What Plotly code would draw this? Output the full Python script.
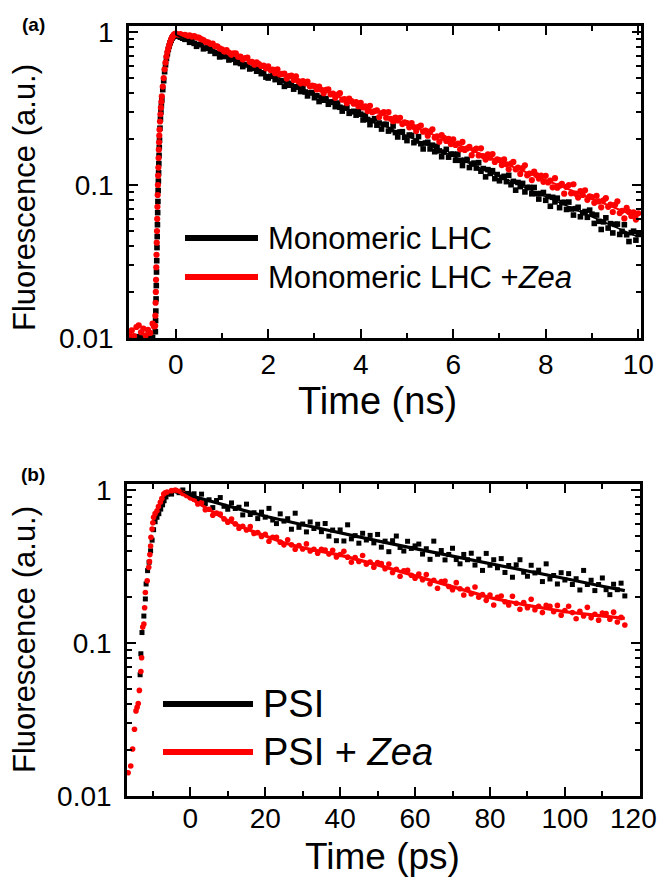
import plotly.graph_objects as go

# ---------------- Panel (a): Monomeric LHC, time in ns ----------------
TOP_BLACK_RISE_T = [-1.0, -0.9, -0.8, -0.7, -0.6, -0.5, -0.44, -0.435, -0.43, -0.425, -0.42, -0.415,
                    -0.41, -0.405, -0.40, -0.395, -0.39, -0.385, -0.38, -0.375, -0.37, -0.365, -0.36,
                    -0.355, -0.35, -0.34, -0.33, -0.32, -0.31, -0.30, -0.28, -0.26, -0.24, -0.22,
                    -0.20, -0.18, -0.16, -0.14, -0.12, -0.10, -0.08, -0.06, -0.04, -0.02]
TOP_BLACK_RISE_V = [0.0101, 0.0099, 0.0102, 0.0100, 0.0103, 0.0101, 0.011, 0.013, 0.015, 0.018, 0.022,
                    0.027, 0.032, 0.039, 0.046, 0.055, 0.066, 0.078, 0.092, 0.106, 0.12, 0.138, 0.156,
                    0.176, 0.196, 0.235, 0.27, 0.30, 0.33, 0.36, 0.42, 0.48, 0.55, 0.61, 0.67, 0.72,
                    0.77, 0.81, 0.85, 0.88, 0.91, 0.93, 0.94, 0.95]
TOP_RED_RISE_T = [-1.0, -0.95, -0.9, -0.85, -0.8, -0.75, -0.7, -0.65, -0.6, -0.55, -0.5, -0.47,
                  -0.445, -0.44, -0.435, -0.43, -0.425, -0.42, -0.415, -0.41, -0.405, -0.40, -0.395,
                  -0.39, -0.385, -0.38, -0.375, -0.37, -0.365, -0.36, -0.355, -0.35, -0.34, -0.33,
                  -0.32, -0.31, -0.30, -0.28, -0.26, -0.24, -0.22, -0.20, -0.18, -0.16, -0.14,
                  -0.12, -0.10, -0.08, -0.06, -0.04, -0.02]
TOP_RED_RISE_V = [0.0105, 0.0112, 0.0103, 0.0118, 0.0121, 0.0109, 0.0115, 0.0104, 0.0113, 0.0108,
                  0.0124, 0.0119, 0.012, 0.014, 0.017, 0.020, 0.024, 0.029, 0.035, 0.042, 0.050,
                  0.060, 0.072, 0.086, 0.100, 0.115, 0.13, 0.15, 0.17, 0.19, 0.21, 0.23, 0.26, 0.29,
                  0.32, 0.35, 0.38, 0.44, 0.50, 0.57, 0.63, 0.69, 0.74, 0.78, 0.82, 0.86, 0.89,
                  0.92, 0.94, 0.96, 0.97]

# decay samples every 0.05 ns from 0 to 10 ns
TOP_DECAY_START_NS = 0.0
TOP_DECAY_STEP_NS = 0.05
TOP_BLACK_DECAY_V = [
    .95, .94, .925, .91, .895,
    .900, .856, .885, .842, .806, .829, .827, .776, .786, .785, .751, .777, .724, .733, .687,
    .717, .691, .699, .656, .670, .664, .631, .653, .622, .594, .611, .611, .573, .580, .579, .554, .573, .534, .541, .507,
    .500, .513, .516, .488, .515, .469, .481, .441, .470, .449, .461, .423, .438, .437, .408, .432, .405, .382, .400, .402,
    .372, .383, .351, .374, .358, .367, .337, .349, .347, .325, .343, .322, .304, .318, .320, .294, .301, .303, .286, .302,
    .290, .266, .285, .268, .248, .263, .271, .246, .254, .232, .249, .249, .225, .230, .243, .220, .206, .222, .223, .205,
    .195, .212, .211, .189, .194, .207, .186, .172, .188, .190, .172, .182, .165, .179, .167, .153, .164, .171, .152, .159,
    .159, .145, .159, .145, .134, .145, .147, .130, .137, .139, .129, .140, .123, .128, .113, .126, .119, .124, .110, .117,
    .1065, .1121, .1139, .1052, .1157, .1004, .1056, .0925, .1039, .0976, .1024, .0901, .0963, .0964, .0876, .0964, .0878, .0809, .0879, .0893,
    .0794, .0841, .0726, .0831, .0775, .0820, .0711, .0768, .0770, .0692, .0773, .0697, .0636, .0700, .0715, .0620, .0658, .0671, .0615, .0685,
    .0644, .0561, .0636, .0579, .0512, .0574, .0610, .0523, .0559, .0486, .0553, .0555, .0475, .0498, .0550, .0473, .0427, .0488, .0499, .0436, .0475]
TOP_RED_DECAY_V = [
    .975, .962, .968, .951, .958, .944, .950, .933, .941, .922, .918, .897, .885, .861, .856, .836, .838, .808, .806, .781,
    .770, .744, .760, .734, .709, .724, .724, .689, .689, .661, .674, .679, .638, .638, .611, .634, .616, .599, .603, .579,
    .595, .564, .568, .538, .569, .528, .532, .534, .496, .515, .518, .486, .513, .477, .462, .478, .462, .474, .441, .447,
    .442, .421, .440, .419, .398, .418, .421, .391, .396, .371, .389, .398, .361, .364, .342, .367, .353, .340, .348, .327,
    .344, .321, .326, .304, .329, .299, .304, .307, .278, .295, .299, .275, .299, .271, .261, .276, .264, .275, .250, .257,
    .254, .238, .254, .239, .225, .240, .244, .223, .227, .210, .224, .231, .204, .208, .192, .212, .203, .194, .200, .185,
    .1988, .1827, .1867, .1710, .1911, .1696, .1734, .1772, .1565, .1693, .1729, .1559, .1737, .1544, .1466, .1584, .1508, .1594, .1413, .1472,
    .1454, .1349, .1469, .1366, .1266, .1382, .1415, .1266, .1299, .1181, .1289, .1344, .1157, .1188, .1077, .1224, .1162, .1101, .1152, .1048,
    .1148, .1039, .1070, .0965, .1108, .0960, .0990, .1019, .0878, .0971, .0998, .0882, .1011, .0878, .0828, .0911, .0861, .0924, .0800, .0844,
    .0834, .0764, .0849, .0781, .0715, .0795, .0820, .0720, .0745, .0666, .0742, .0782, .0655, .0678, .0605, .0708, .0667, .0627, .0663, .0594, .0652]

TOP_BLACK_FIT_T = [0, 0.2, 0.5, 1, 2, 3, 4, 5, 6, 7, 8, 9, 10]
TOP_BLACK_FIT_V = [.958, .901, .823, .707, .521, .384, .284, .209, .154, .114, .0839, .0619, .0457]
TOP_RED_FIT_T = [0, 0.3, 0.5, 0.7, 1, 2, 3, 4, 5, 6, 7, 8, 9, 10]
TOP_RED_FIT_V = [.975, .945, .915, .85, .765, .578, .437, .330, .250, .189, .1425, .1077, .0814, .0615]

TOP_XTICKS = [0, 2, 4, 6, 8, 10]
TOP_XMINOR = [1, 3, 5, 7, 9]
TOP_LEGEND = ["Monomeric LHC", "Monomeric LHC +<i>Zea</i>"]

# ---------------- Panel (b): PSI, time in ps ----------------
BOT_BLACK_RISE_T = [-13.4, -13.2, -12.9, -12.4, -12.0, -11.8, -11.4, -11.0, -10.6, -10.2, -9.8, -9.4,
                    -8.9, -8.4, -7.9, -7.4, -7.0, -6.5, -6.1]
BOT_BLACK_RISE_V = [0.062, 0.085, 0.117, 0.15, 0.194, 0.243, 0.297, 0.337, 0.40, 0.47, 0.55, 0.62,
                    0.663, 0.70, 0.75, 0.80, 0.85, 0.90, 0.94]
BOT_RED_RISE_T = [-16.6, -15.9, -15.4, -14.9, -14.5, -14.2, -13.9, -13.6, -13.2, -13.0, -12.7, -12.4,
                  -12.2, -12.0, -11.5, -11.1, -10.9, -10.8, -10.6, -10.5, -10.2, -10.0, -9.8, -9.4,
                  -8.9, -8.5, -8.0, -7.6, -7.1, -6.7, -6.2]
BOT_RED_RISE_V = [0.0142, 0.0157, 0.0203, 0.0273, 0.036, 0.038, 0.0402, 0.049, 0.065, 0.08, 0.127,
                  0.133, 0.17, 0.214, 0.255, 0.312, 0.34, 0.378, 0.43, 0.49, 0.556, 0.61, 0.663,
                  0.70, 0.732, 0.78, 0.831, 0.88, 0.94, 0.96, 0.97]

# decay samples every 1 ps from -5 to 116 ps
BOT_DECAY_START_PS = -5
BOT_DECAY_STEP_PS = 1
BOT_BLACK_DECAY_V = [
    .94, .99, .96, 1.0, .95, .93,
    .944, .867, .939, .816, .863, .767, .853, .892, .782, .748, .823, .757, .771, .687, .808, .691, .710, .650, .716, .664,
    .758, .636, .603, .698, .626, .649, .554, .705, .570, .599, .532, .618, .560, .597, .534, .604, .499, .547, .466, .548,
    .464, .592, .479, .503, .449, .521, .471, .505, .451, .512, .423, .463, .395, .466, .500, .421, .399, .462, .415, .431,
    .443, .381, .413, .352, .463, .380, .402, .349, .379, .416, .351, .329, .379, .350, .386, .323, .353, .298, .385, .322,
    .350, .310, .356, .289, .321, .269, .324, .350, .290, .273, .322, .287, .299, .252, .329, .262, .276, .243, .288, .258,
    .284, .241, .263, .222, .298, .241, .257, .220, .241, .266, .223, .207, .242, .223, .246, .203]
BOT_RED_DECAY_V = [
    .99, 1.0, .98, .95, .92, .89,
    .871, .809, .827, .743, .748, .684, .707, .696, .647, .616, .645, .600, .562, .579, .547, .576, .520, .526, .496, .513,
    .462, .491, .490, .456, .438, .472, .438, .410, .434, .411, .444, .399, .410, .386, .410, .405, .381, .403, .365, .379,
    .397, .364, .337, .362, .341, .373, .327, .338, .313, .336, .330, .306, .328, .289, .303, .273, .296, .298, .277, .265,
    .282, .259, .280, .244, .257, .228, .252, .254, .234, .223, .248, .226, .206, .224, .209, .232, .199, .207, .190, .206,
    .177, .199, .203, .186, .177, .202, .182, .166, .184, .170, .193, .165, .174, .158, .176, .174, .160, .176, .152, .163,
    .174, .158, .144, .161, .150, .171, .146, .154, .141, .157, .156, .143, .159, .137, .147, .131]

BOT_BLACK_FIT_T = [-4, -2, 0, 5, 10, 15, 20, 30, 40, 50, 60, 70, 80, 90, 100, 110, 116]
BOT_BLACK_FIT_V = [.97, .955, .92, .851, .787, .727, .673, .593, .522, .465, .414, .371, .332, .296, .264, .235, .220]
BOT_RED_FIT_T = [-5, -3, 0, 5, 10, 15, 20, 25, 30, 35, 40, 50, 60, 70, 80, 90, 100, 108, 116]
BOT_RED_FIT_V = [1.0, .97, .88, .742, .631, .556, .501, .452, .419, .398, .375, .324, .275, .233, .198, .176, .160, .152, .145]

BOT_XTICKS = [0, 20, 40, 60, 80, 100, 120]
BOT_XTICKTEXT = ["0", "20", "40", "60", "80", "100", ""]   # "120" is written as a separate label (it sits tight at the edge)
BOT_LAST_TICK_LABEL = "120"
BOT_XMINOR = [-10, 10, 30, 50, 70, 90, 110]
BOT_LEGEND = ["PSI", "PSI + <i>Zea</i>"]

Y_TICKS = [0.01, 0.1, 1]
Y_TICKTEXT = ["0.01", "0.1", "1"]
Y_MINOR = [m * d for d in (0.01, 0.1) for m in range(2, 10)]

BLACK = "#000000"
RED = "#FF0000"
FONT = "Arial, Liberation Sans, sans-serif"

# The page body keeps its default 8 px margin, so the figure is sized to fit the window exactly.
PAGE_MARGIN = 8
W, H = 667 - 2 * PAGE_MARGIN, 886 - 2 * PAGE_MARGIN


def grid(start, step, n):
    return [round(start + step * i, 4) for i in range(n)]


top_t = grid(TOP_DECAY_START_NS, TOP_DECAY_STEP_NS, len(TOP_BLACK_DECAY_V))
bot_t = grid(BOT_DECAY_START_PS, BOT_DECAY_STEP_PS, len(BOT_BLACK_DECAY_V))

fig = go.Figure()

# panel (a)
fig.add_trace(go.Scatter(x=TOP_BLACK_RISE_T + top_t, y=TOP_BLACK_RISE_V + TOP_BLACK_DECAY_V,
                         mode="markers", marker=dict(symbol="square", size=5.6, color=BLACK),
                         xaxis="x", yaxis="y", showlegend=False))
fig.add_trace(go.Scatter(x=TOP_RED_FIT_T, y=TOP_RED_FIT_V, mode="lines",
                         line=dict(color=RED, width=2), xaxis="x", yaxis="y", showlegend=False))
fig.add_trace(go.Scatter(x=TOP_RED_RISE_T + top_t, y=TOP_RED_RISE_V + TOP_RED_DECAY_V,
                         mode="markers", marker=dict(symbol="circle", size=6.2, color=RED),
                         xaxis="x", yaxis="y", showlegend=False))
fig.add_trace(go.Scatter(x=TOP_BLACK_FIT_T, y=TOP_BLACK_FIT_V, mode="lines",
                         line=dict(color=BLACK, width=1.6), xaxis="x", yaxis="y", showlegend=False))

# panel (b)
fig.add_trace(go.Scatter(x=BOT_BLACK_RISE_T + bot_t, y=BOT_BLACK_RISE_V + BOT_BLACK_DECAY_V,
                         mode="markers", marker=dict(symbol="square", size=5, color=BLACK),
                         xaxis="x2", yaxis="y2", showlegend=False))
fig.add_trace(go.Scatter(x=BOT_RED_RISE_T + bot_t, y=BOT_RED_RISE_V + BOT_RED_DECAY_V,
                         mode="markers", marker=dict(symbol="circle", size=5.6, color=RED),
                         xaxis="x2", yaxis="y2", showlegend=False))
fig.add_trace(go.Scatter(x=BOT_BLACK_FIT_T, y=BOT_BLACK_FIT_V, mode="lines",
                         line=dict(color=BLACK, width=3.2), xaxis="x2", yaxis="y2", showlegend=False))
fig.add_trace(go.Scatter(x=BOT_RED_FIT_T, y=BOT_RED_FIT_V, mode="lines",
                         line=dict(color=RED, width=3.2), xaxis="x2", yaxis="y2", showlegend=False))


def px_x(p):
    # window pixel -> paper fraction
    return (p - PAGE_MARGIN) / W


def px_y(p):
    return 1 - (p - PAGE_MARGIN) / H


def axis_style(**kw):
    d = dict(showline=True, linewidth=2.6, linecolor=BLACK, mirror="allticks",
             ticks="inside", ticklen=9, tickwidth=2.4, tickcolor=BLACK,
             showgrid=False, zeroline=False, automargin=False, ticklabeloverflow="allow",
             tickfont=dict(family=FONT, size=28, color=BLACK))
    d.update(kw)
    return d


minor_style = dict(ticks="inside", ticklen=5, tickwidth=2.2, tickcolor=BLACK, showgrid=False)

fig.update_layout(
    width=W, height=H, autosize=False,
    margin=dict(l=0, r=0, t=0, b=0, pad=0),
    paper_bgcolor="white", plot_bgcolor="white",
    showlegend=False,
    xaxis=axis_style(domain=[px_x(129), px_x(641)], range=[-1.01, 10.06], anchor="y",
                     tickmode="array", tickvals=TOP_XTICKS, ticklabelstandoff=0,
                     minor=dict(tickvals=TOP_XMINOR, **minor_style)),
    yaxis=axis_style(domain=[px_y(338), px_y(26)], type="log", range=[-2, 0.039], anchor="x",
                     tickmode="array", tickvals=Y_TICKS, ticktext=Y_TICKTEXT, ticklabelstandoff=7,
                     minor=dict(tickvals=Y_MINOR, **minor_style)),
    xaxis2=axis_style(domain=[px_x(127), px_x(640)], range=[-16.9, 120.05], anchor="y2",
                      tickmode="array", tickvals=BOT_XTICKS, ticktext=BOT_XTICKTEXT, ticklabelstandoff=-4,
                      minor=dict(tickvals=BOT_XMINOR, **minor_style)),
    yaxis2=axis_style(domain=[px_y(796), px_y(484)], type="log", range=[-2, 0.039], anchor="x2",
                      tickmode="array", tickvals=Y_TICKS, ticktext=Y_TICKTEXT, ticklabelstandoff=7,
                      minor=dict(tickvals=Y_MINOR, **minor_style)),
)

ann = []


def text(x, y, s, size, xanchor="center", angle=0, bold=False):
    ann.append(dict(x=px_x(x), y=px_y(y), xref="paper", yref="paper", text=("<b>%s</b>" % s) if bold else s,
                    showarrow=False, xanchor=xanchor, yanchor="middle", textangle=angle,
                    font=dict(family=FONT, size=size, color=BLACK)))


text(377, 401, "Time (ns)", 38)
text(383, 856, "Time (ps)", 37)
text(633, 818, BOT_LAST_TICK_LABEL, 28)
text(24, 198, "Fluorescence (a.u.)", 31, angle=-90)
text(24, 640, "Fluorescence (a.u.)", 31, angle=-90)
text(33, 24, "(a)", 19, bold=True)
text(33, 474, "(b)", 19, bold=True)
text(266, 238, TOP_LEGEND[0], 31, xanchor="left")
text(266, 277, TOP_LEGEND[1], 31, xanchor="left")
text(261, 704, BOT_LEGEND[0], 38, xanchor="left")
text(261, 752, BOT_LEGEND[1], 38, xanchor="left")

shapes = []
for (x0, x1, y, c) in [(185, 258, 238, BLACK), (185, 258, 277, RED), (163, 253, 704, BLACK), (163, 253, 752, RED)]:
    shapes.append(dict(type="line", xref="paper", yref="paper", x0=px_x(x0), x1=px_x(x1),
                       y0=px_y(y), y1=px_y(y), line=dict(color=c, width=6)))

fig.update_layout(annotations=ann, shapes=shapes)

fig.write_html("out.html")
